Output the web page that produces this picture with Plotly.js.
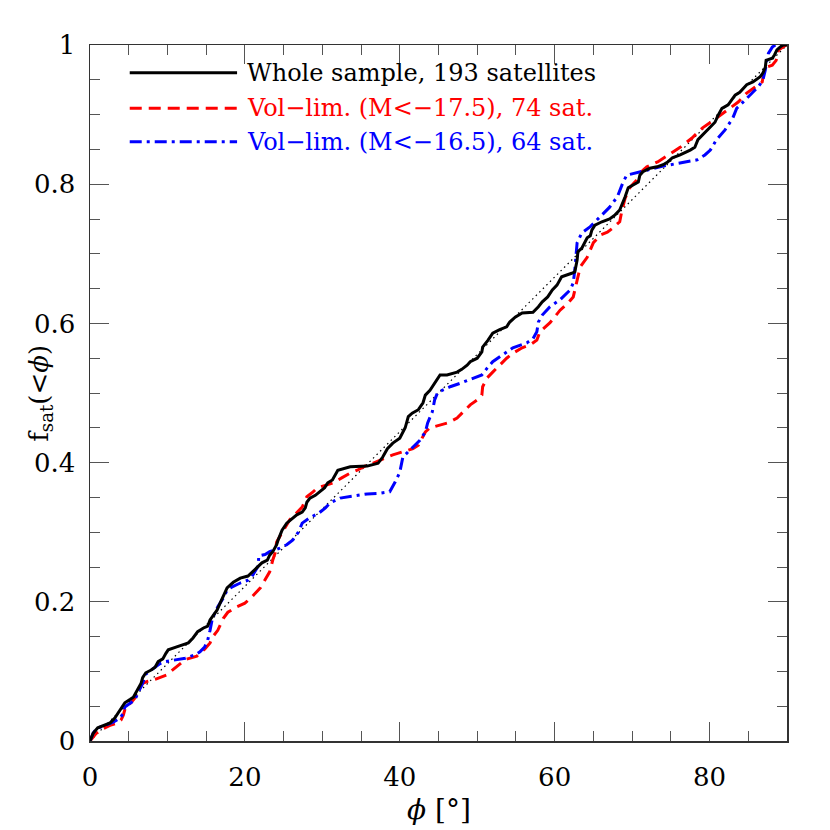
<!DOCTYPE html>
<html>
<head>
<meta charset="utf-8">
<script src="https://cdn.plot.ly/plotly-3.0.1.min.js"></script>
<style>html,body{margin:0;padding:0;background:#fff;}#chart{width:830px;height:830px;}</style>
</head>
<body>
<div id="chart"></div>
<script>
// Whole sample, 193 satellites
const blackX = [0,0.4,1.0,1.9,2.6,3.2,3.6,4.0,4.5,5.2,
  5.6,5.9,6.2,6.6,6.8,7.2,7.9,8.4,8.8,9.4,
  9.8,10.1,11.1,12.7,13.3,13.9,14.6,15.2,15.5,15.9,
  16.4,16.8,17.4,17.7,18.5,19.4,20.4,21.0,21.7,22.2,
  22.9,23.2,23.6,24.1,24.3,24.5,24.8,25.4,26.1,26.7,
  27.4,27.8,28.0,28.4,29.1,29.7,30.3,30.7,31.3,32.0,
  33.6,35.8,37.2,37.8,38.4,39.1,40.0,40.7,41.1,41.6,
  42.4,43.0,43.3,43.9,44.5,45.2,46.1,47.4,48.0,48.7,
  49.1,50.0,50.6,50.7,51.4,52.0,52.9,53.8,54.2,54.9,
  55.8,57.2,57.9,58.4,59.1,59.7,60.3,60.9,62.2,62.6,
  62.9,63.0,63.5,63.9,64.2,64.6,64.8,65.2,66.1,67.1,
  67.8,68.4,68.8,69.1,69.5,70.1,70.8,71.0,71.4,72.3,
  73.2,74.0,74.6,75.2,76.2,77.5,78.1,78.5,79.4,80.1,
  80.7,81.1,81.6,82.4,82.9,83.3,83.9,84.8,85.6,86.5,
  86.9,87.2,87.3,88.1,88.4,88.7,89.1,89.5,90];
const blackY = [0,0.011,0.019,0.023,0.026,0.033,0.040,0.047,0.055,0.060,
  0.063,0.069,0.076,0.083,0.091,0.098,0.102,0.106,0.114,0.118,
  0.126,0.131,0.135,0.141,0.148,0.157,0.162,0.165,0.174,0.181,
  0.188,0.198,0.213,0.220,0.228,0.234,0.237,0.243,0.250,0.256,
  0.260,0.267,0.272,0.282,0.289,0.296,0.303,0.313,0.320,0.325,
  0.329,0.335,0.343,0.349,0.353,0.358,0.364,0.371,0.375,0.389,
  0.394,0.395,0.399,0.408,0.420,0.428,0.435,0.450,0.466,0.471,
  0.476,0.486,0.497,0.504,0.514,0.526,0.526,0.530,0.534,0.540,
  0.545,0.550,0.559,0.566,0.576,0.586,0.591,0.595,0.602,0.609,
  0.615,0.616,0.624,0.631,0.638,0.648,0.655,0.667,0.672,0.674,
  0.691,0.703,0.708,0.716,0.723,0.726,0.734,0.741,0.746,0.750,
  0.756,0.763,0.773,0.782,0.795,0.799,0.803,0.813,0.818,0.823,
  0.825,0.828,0.832,0.838,0.842,0.849,0.853,0.864,0.874,0.881,
  0.889,0.899,0.909,0.914,0.921,0.928,0.932,0.943,0.947,0.954,
  0.960,0.968,0.978,0.981,0.986,0.993,0.997,1.0,1.0];

// Vol-lim. (M<-17.5), 74 sat.
const redX = [0,0.8,1.4,2.1,2.7,3.6,4.0,4.3,4.6,5.3,
  5.8,6.2,6.8,7.5,8.5,9.9,11.0,12.3,13.8,14.8,
  15.5,15.8,16.5,17.2,17.8,19.0,20.0,20.9,22.0,22.6,
  23.2,23.6,23.9,24.1,24.8,25.8,27.4,28.0,28.8,29.4,
  30.6,31.4,32.5,33.6,34.5,35.5,36.5,37.7,38.4,39.1,
  40.0,40.9,41.7,42.4,42.9,43.3,43.9,45.2,46.2,47.4,
  48.2,49.1,50.0,50.6,50.7,51.3,52.0,52.9,53.8,54.6,
  55.8,56.8,57.7,58.1,59.0,59.4,60.7,61.7,62.4,62.9,
  63.3,64.2,65.0,65.9,66.8,67.5,68.4,68.7,69.1,69.7,
  70.6,71.0,71.9,73.3,74.6,76.2,77.7,79.1,80.9,82.4,
  83.7,84.8,85.9,86.8,87.0,87.3,88.1,88.6,88.9,89.4,
  89.9,90];
const redY = [0,0.011,0.016,0.020,0.023,0.026,0.030,0.037,0.049,0.055,
  0.062,0.072,0.083,0.086,0.089,0.095,0.105,0.117,0.122,0.132,
  0.141,0.149,0.159,0.176,0.185,0.193,0.198,0.207,0.220,0.231,
  0.243,0.260,0.270,0.286,0.299,0.318,0.336,0.351,0.358,0.364,
  0.368,0.371,0.378,0.385,0.389,0.395,0.399,0.404,0.408,0.411,
  0.414,0.417,0.420,0.425,0.435,0.444,0.450,0.454,0.457,0.464,
  0.473,0.483,0.490,0.497,0.509,0.522,0.530,0.540,0.550,0.557,
  0.565,0.569,0.576,0.588,0.598,0.601,0.619,0.629,0.638,0.662,
  0.681,0.695,0.716,0.727,0.731,0.737,0.746,0.763,0.780,0.795,
  0.806,0.816,0.825,0.832,0.842,0.853,0.866,0.881,0.895,0.907,
  0.918,0.931,0.940,0.947,0.960,0.968,0.971,0.978,0.993,0.997,
  1.0,1.0];

// Vol-lim. (M<-16.5), 64 sat.
const blueX = [0,0.4,0.9,1.4,2.1,3.0,3.9,4.3,4.5,5.2,
  5.8,6.2,6.5,6.8,7.2,7.7,8.4,9.0,9.7,11.0,
  12.3,13.6,14.2,14.8,15.2,15.5,15.8,16.5,17.2,17.7,
  18.3,19.4,20.4,20.9,21.3,21.7,21.8,22.6,23.2,24.5,
  25.4,26.2,26.9,27.4,28.4,29.5,30.4,31.0,32.3,33.6,
  35.8,37.4,38.7,39.4,40.0,40.4,41.3,42.0,42.6,43.3,
  43.6,44.2,44.5,44.9,46.5,47.8,49.5,50.6,51.3,52.0,
  53.3,54.6,56.4,57.2,57.7,57.9,58.4,59.0,59.4,60.7,
  62.0,62.4,62.6,62.9,63.5,64.6,65.9,67.1,68.1,68.8,
  69.3,70.6,71.9,74.0,76.2,78.4,79.4,80.1,80.9,82.0,
  83.0,83.5,84.6,85.5,86.3,86.9,87.2,87.4,87.6,88.1,
  88.5,90];
const blueY = [0,0.011,0.019,0.020,0.023,0.027,0.033,0.040,0.049,0.055,
  0.059,0.069,0.076,0.083,0.096,0.100,0.105,0.111,0.114,0.116,
  0.119,0.124,0.128,0.135,0.145,0.159,0.176,0.193,0.205,0.217,
  0.221,0.227,0.231,0.236,0.243,0.251,0.266,0.268,0.272,0.277,
  0.282,0.289,0.300,0.313,0.321,0.327,0.335,0.342,0.349,0.351,
  0.355,0.356,0.358,0.372,0.386,0.408,0.418,0.425,0.432,0.444,
  0.457,0.473,0.490,0.501,0.509,0.514,0.522,0.526,0.536,0.545,
  0.555,0.565,0.572,0.578,0.588,0.602,0.612,0.619,0.624,0.634,
  0.648,0.658,0.677,0.716,0.730,0.739,0.753,0.767,0.782,0.802,
  0.813,0.816,0.820,0.826,0.830,0.835,0.842,0.849,0.864,0.878,
  0.895,0.909,0.921,0.931,0.940,0.950,0.964,0.978,0.988,0.997,
  1.0,1.0];

// Uniform (isotropic) reference line
const diagX = [0, 90];
const diagY = [0, 1];

const xTickVals = [0, 20, 40, 60, 80];
const xTickText = ['0', '20', '40', '60', '80'];
const yTickVals = [0, 0.2, 0.4, 0.6, 0.8, 1];
const yTickText = ['0', '0.2', '0.4', '0.6', '0.8', '1'];

const seriesNames = ['Whole sample, 193 satellites', 'Vol\u2212lim. (M<\u221217.5), 74 sat.', 'Vol\u2212lim. (M<\u221216.5), 64 sat.'];
const seriesColors = ['#000000', '#ff0000', '#0000ff'];
const seriesDash = ['solid', '12px,7px', '12px,5px,3px,5px'];

const FONT = 'DejaVu Serif, Liberation Serif, serif';

const traces = [
  {x: diagX, y: diagY, mode: 'lines', line: {color: '#000', width: 1.2, dash: '1.5px,3.5px'}, hoverinfo: 'skip', showlegend: false},
  {x: redX, y: redY, mode: 'lines', name: seriesNames[1], line: {color: seriesColors[1], width: 3, dash: seriesDash[1]}, showlegend: false},
  {x: blueX, y: blueY, mode: 'lines', name: seriesNames[2], line: {color: seriesColors[2], width: 3, dash: seriesDash[2]}, showlegend: false},
  {x: blackX, y: blackY, mode: 'lines', name: seriesNames[0], line: {color: seriesColors[0], width: 3, dash: seriesDash[0]}, showlegend: false}
];

// manual legend (paper coordinates)
const legRowY = [0.960, 0.909, 0.861];
const shapes = [];
const annotations = [];
for (let i = 0; i < 3; i++) {
  shapes.push({type: 'line', xref: 'paper', yref: 'paper', x0: 0.057, x1: 0.211, y0: legRowY[i], y1: legRowY[i],
    line: {color: seriesColors[i], width: 3, dash: seriesDash[i]}});
  annotations.push({xref: 'paper', yref: 'paper', x: 0.222, y: legRowY[i], xanchor: 'left', yanchor: 'middle',
    showarrow: false, text: seriesNames[i].replace('<', '&lt;'), font: {family: FONT, size: 24, color: seriesColors[i]}});
}
annotations.push({xref: 'paper', yref: 'paper', x: 0.5, y: -0.098, xanchor: 'center', yanchor: 'middle', showarrow: false,
  text: '<i>\u03d5</i> [\u00b0]', font: {family: FONT, size: 28, color: '#000'}});
annotations.push({xref: 'paper', yref: 'paper', x: -0.072, y: 0.5, xanchor: 'center', yanchor: 'middle', showarrow: false,
  textangle: -90, text: 'f<sub>sat</sub>(&lt;<i>\u03d5</i>)', font: {family: FONT, size: 26, color: '#000'}});

const axisCommon = {
  showgrid: false, zeroline: false, showline: true, linecolor: '#333', linewidth: 1.5,
  mirror: 'ticks', ticks: 'inside', ticklen: 19, tickwidth: 1, tickcolor: '#555',
  tickfont: {family: FONT, size: 26, color: '#000'}
};

const layout = {
  width: 830, height: 830,
  margin: {l: 90, r: 43, t: 45, b: 89},
  paper_bgcolor: '#fff', plot_bgcolor: '#fff',
  showlegend: false,
  xaxis: Object.assign({}, axisCommon, {range: [0, 90], tickmode: 'array', tickvals: xTickVals, ticktext: xTickText,
    minor: {dtick: 5, ticks: 'inside', ticklen: 10, tickwidth: 1, tickcolor: '#555', showgrid: false}, ticklabelstandoff: 12}),
  yaxis: Object.assign({}, axisCommon, {range: [0, 1], tickmode: 'array', tickvals: yTickVals, ticktext: yTickText,
    minor: {dtick: 0.05, ticks: 'inside', ticklen: 10, tickwidth: 1, tickcolor: '#555', showgrid: false}, ticklabelstandoff: 8}),
  shapes: shapes,
  annotations: annotations
};

Plotly.newPlot('chart', traces, layout, {staticPlot: true, displayModeBar: false});
</script>
</body>
</html>
